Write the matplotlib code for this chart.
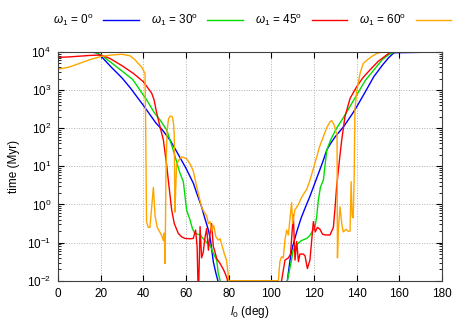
import numpy as np
import matplotlib
matplotlib.use("Agg")
import matplotlib.pyplot as plt
from matplotlib.ticker import FixedLocator, LogLocator, NullFormatter

plt.rcParams['font.family'] = ['Liberation Sans', 'DejaVu Sans']
plt.rcParams['mathtext.fontset'] = 'custom'
plt.rcParams['mathtext.rm'] = 'Liberation Sans'
plt.rcParams['mathtext.it'] = 'Liberation Sans:italic'
plt.rcParams['font.size'] = 8.5

# inclination (deg) and log10(time / Myr)
inc_w0 = [0, 10, 15, 18, 20, 25, 30, 34, 40, 46, 49, 52.5, 55, 57.5, 60, 63.5, 65, 67.3, 68.5, 70.5, 71.5, 72.8, 74, 75.1, 76,
          106.5, 107.5, 109, 110, 112, 114, 116.5, 118, 120, 122, 124, 126, 128, 130, 134, 138, 140, 144, 148, 152, 155, 157.5, 180]
log_w0 = [4, 4, 4, 3.98, 3.9, 3.6, 3.32, 3.05, 2.6, 2.13, 1.95, 1.69, 1.45, 1.2, 0.95, 0.55, 0.3, -0.06, -0.3, -0.67, -0.94, -1.5, -1.8, -2.03, -2.3,
          -2.3, -2.0, -1.37, -1.1, -0.7, -0.35, 0.0, 0.2, 0.5, 0.8, 1.1, 1.43, 1.62, 1.78, 2.05, 2.38, 2.56, 2.95, 3.35, 3.65, 3.85, 3.98, 4]

inc_w30 = [0, 17, 20, 25, 30, 35, 40, 41.6, 45, 47.8, 51, 54, 57, 58.75, 60.3, 61.9, 63, 64, 66.6, 69.7, 71.3, 72.8, 74.4, 75.1, 76, 77,
           106.5, 107.5, 109.5, 110.2, 112, 114, 116.6, 118, 120.5, 121.3, 122, 123, 124.4, 126, 128, 130.6, 134, 138, 140, 144, 149.4, 152, 155, 157.5, 180]
log_w30 = [4, 4, 3.93, 3.72, 3.5, 3.28, 2.87, 2.74, 2.42, 2.22, 1.95, 1.43, 0.85, 0.6, -0.15, -0.41, -0.63, -0.75, -0.8, -1.0, -1.07, -1.28, -1.46, -1.8, -2.0, -2.3,
           -2.3, -2.0, -1.45, -1.2, -1.05, -0.95, -0.89, -0.82, -0.58, -0.3, 0.1, 0.45, 0.64, 1.43, 1.72, 2.0, 2.3, 2.68, 2.87, 3.25, 3.62, 3.8, 3.93, 4.0, 4]

inc_w45 = [0, 5, 10, 15, 20, 24.4, 30, 35.3, 40, 43.9, 45, 46.3, 48, 49.4, 51, 51.7, 53.3, 54.5, 56.4, 58, 59.5, 62, 63.4, 64.5, 65.2, 65.8, 66.6, 67.3,
           68.1, 68.8, 69.7, 70.5, 71.2, 72, 72.8, 73.6, 74.4, 76, 77.5, 78.3, 79.3, 80.3,
           104, 104.8, 106.4, 108, 109, 110.3, 111.1, 111.9, 112.7, 113.4, 115, 115.8, 116.9, 118.1, 119.7, 120.6, 121.6, 122.8, 124, 125.2, 127.5, 129.1,
           130, 130.6, 132, 133, 134.5, 136.9, 140, 143, 146.25, 150, 154, 156, 180]
log_w45 = [3.86, 3.87, 3.89, 3.91, 3.92, 3.83, 3.64, 3.44, 3.22, 2.92, 2.75, 2.39, 2.0, 1.69, 1.0, 0.64, -0.15, -0.5, -0.76, -0.85, -0.89, -0.9, -0.89, -0.67, -1.1, -2.5, -0.58, -1.4,
           -1.25, -0.9, -0.63, -1.2, -0.8, -0.5, -1.1, -1.25, -1.42, -1.55, -1.7, -1.8, -1.95, -2.3,
           -2.3, -2.0, -1.46, -1.4, -1.3, -0.27, -1.46, -0.97, -1.5, -1.3, -1.3, -1.35, -1.68, -1.46, -0.45, -0.72, -0.6, -0.65, -0.78, -0.8, -0.8, -0.6,
           0.0, 0.46, 1.2, 1.69, 2.3, 2.78, 3.09, 3.33, 3.53, 3.75, 3.92, 4.0, 4]

inc_w60 = [0, 5, 8, 15, 20, 25, 30, 33.75, 36, 37.6, 39.2, 40.8, 41.1, 41.5, 42.3, 43.1, 44.7, 45.5, 46.5, 47.5, 48.5, 49.4, 49.8, 50.2, 50.6, 51.1,
           51.8, 52.6, 53.6, 54.2, 54.5, 54.8, 55.3, 55.6, 57, 58, 60.3, 62, 63.4, 65, 67.3, 68.5, 69.7, 70.5, 71.3, 72, 73, 74, 75.1, 76, 77, 78, 79, 79.7,
           80, 103.3,
           104, 104.8, 105.6, 106.4, 107.2, 108, 108.7, 109.5, 110, 111, 112.7, 114.3, 116.6, 118.1, 120, 121.3, 122.5, 124.4, 126, 127.5, 128.3, 129.5, 130.3,
           130.8, 131, 131.4, 132.2, 133, 133.7, 135, 136, 136.9, 137.4, 137.9, 138.4, 138.8, 139.2, 140, 141.6, 143.1, 144.7, 147, 149.4, 152, 180]
log_w60 = [3.55, 3.6, 3.66, 3.8, 3.88, 3.92, 3.94, 3.9, 3.8, 3.7, 3.6, 3.44, 2.0, -0.45, -0.6, -0.6, 0.45, -0.3, -0.6, -0.7, -0.8, -0.95, -0.75, -1.55, 0.8, 1.9,
           2.25, 2.32, 2.3, 2.1, 1.8, -0.2, 0.6, 1.05, 1.2, 1.25, 1.2, 1.05, 0.88, 0.47, -0.06, -0.2, -0.3, -0.5, -0.45, -0.7, -0.55, -0.85, -0.93, -0.9, -1.1, -1.3, -1.46, -1.8,
           -2.0, -2.0,
           -1.5, -1.37, -1.4, -0.93, -0.67, -0.8, -0.4, 0.05, -0.5, -0.15, 0.0, 0.2, 0.4, 0.64, 1.0, 1.25, 1.5, 1.78, 2.02, 2.17, 2.2, 2.08, 1.9,
           1.87, -1.4, -0.67, -0.06, -0.5, -0.72, -0.65, -0.7, -0.7, 0.6, -0.3, -0.35, 0.6, 2.5, 2.96, 3.44, 3.7, 3.78, 3.88, 3.96, 4.0, 4]

series = [
    (inc_w0, log_w0, r'$\omega_1$ = 0$^{\rm o}$', '#0000ff'),
    (inc_w30, log_w30, r'$\omega_1$ = 30$^{\rm o}$', '#00dd00'),
    (inc_w45, log_w45, r'$\omega_1$ = 45$^{\rm o}$', '#ff0000'),
    (inc_w60, log_w60, r'$\omega_1$ = 60$^{\rm o}$', '#ffa500'),
]

fig = plt.figure(figsize=(4.63, 3.35), dpi=100)
ax = fig.add_axes([0.1253, 0.162, 0.8293, 0.6828])

for x, lg, label, col in series:
    ax.plot(x, 10.0 ** np.array(lg), color=col, lw=1.0, label=label)

ax.set_yscale('log')
ax.set_xlim(0, 180)
ax.set_ylim(1e-2, 1e4)
ax.set_xticks(np.arange(0, 181, 20))
ax.yaxis.set_major_locator(FixedLocator([1e-2, 1e-1, 1, 10, 100, 1e3, 1e4]))
ax.set_yticklabels([r'10$^{-2}$', r'10$^{-1}$', r'10$^{0}$', r'10$^{1}$', r'10$^{2}$', r'10$^{3}$', r'10$^{4}$'])
ax.yaxis.set_minor_locator(LogLocator(base=10, subs=np.arange(2, 10)))
ax.yaxis.set_minor_formatter(NullFormatter())
ax.tick_params(which='both', direction='in', top=True, right=True, labelsize=8.5)
ax.tick_params(which='major', length=4, pad=5)
ax.tick_params(which='minor', length=2)
ax.grid(True, which='major', color='#b0b0b0', ls=':', lw=0.7)
for s in ax.spines.values():
    s.set_color('#404040')

ax.set_xlabel(r'$l_0$ (deg)', fontsize=8.5, labelpad=3)
ax.set_ylabel('time (Myr)', fontsize=8.5, labelpad=5)

fig.legend(loc='center', bbox_to_anchor=(0.545, 0.94), ncol=4, frameon=False, markerfirst=False,
           handlelength=3.0, columnspacing=1.05, handletextpad=0.8, fontsize=8.5)

fig.savefig('out.png', dpi=100)
